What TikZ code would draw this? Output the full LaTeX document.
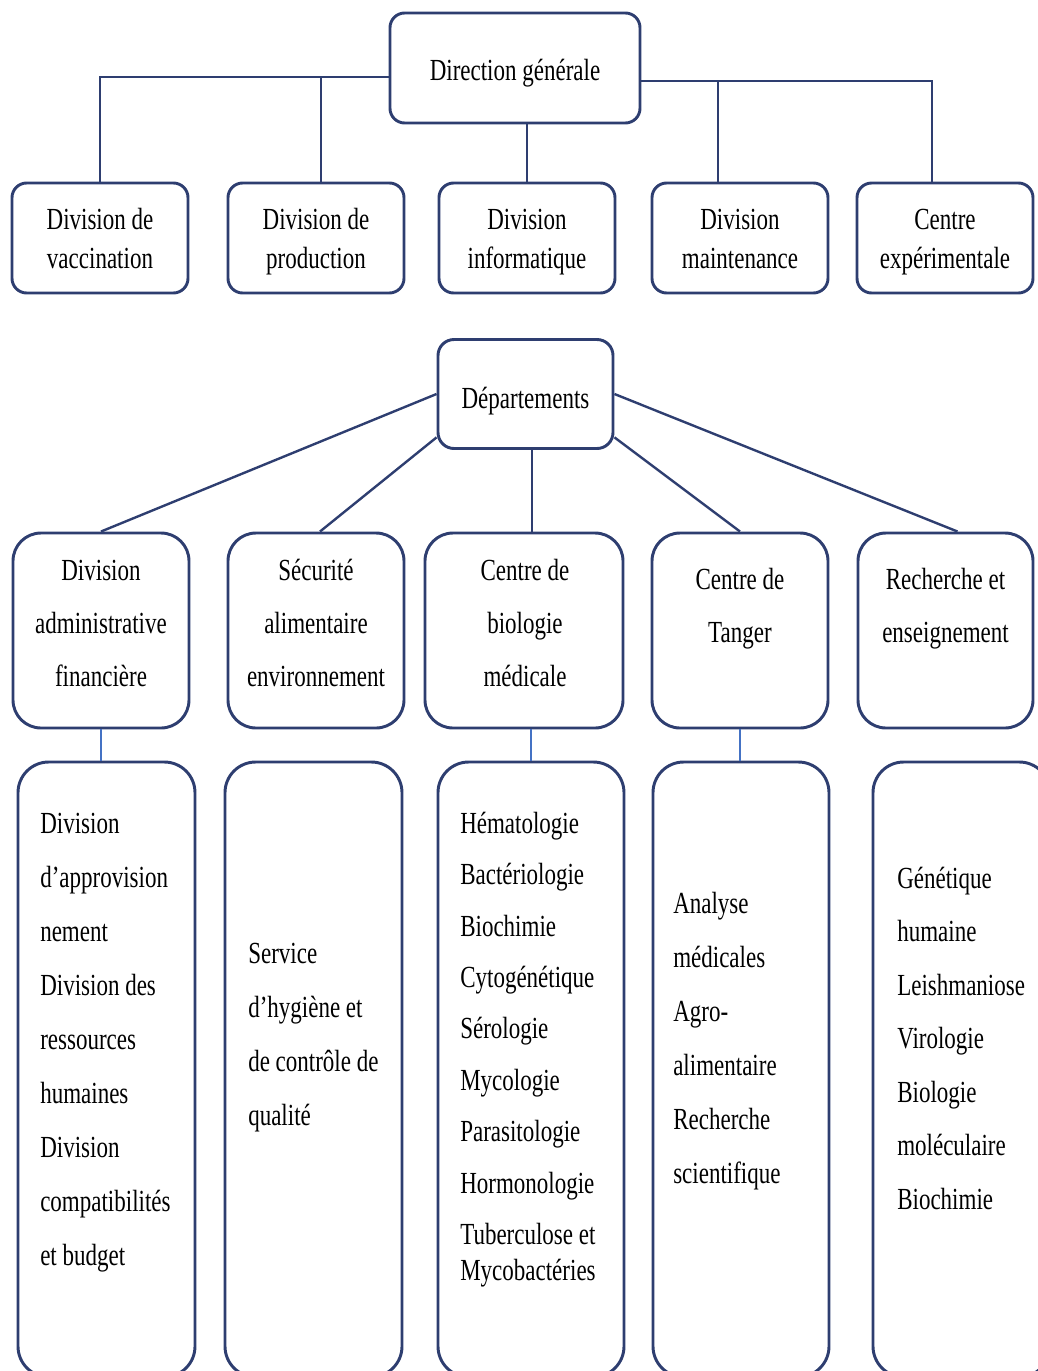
\documentclass[tikz,border=0pt]{standalone}
\usepackage{fontspec}
\setmainfont{Liberation Serif}[FakeStretch=0.75]
\usetikzlibrary{calc}
\definecolor{mynavy}{RGB}{46,62,112}
\definecolor{myblue}{RGB}{68,114,196}
\newcommand{\padtop}[1]{\rule{0pt}{#1}}

\tikzset{
    unitbox/.style={draw=mynavy, fill=white, line width=2.2pt, rounded corners=11pt,
        inner sep=0pt, align=center, font=\fontsize{23}{29.25}\selectfont},
    toprow/.style={unitbox, minimum width=132pt, minimum height=82.5pt},
    deptbox/.style={unitbox, rounded corners=21pt, minimum height=146.25pt},
    listbox/.style={unitbox, rounded corners=23pt, minimum height=461.25pt},
    depttxt/.style={inner sep=0pt, align=center, font=\fontsize{23}{39.75}\selectfont},
    listtxt/.style={inner sep=0pt, align=left, anchor=north west, font=\fontsize{23}{40.5}\selectfont},
    link/.style={draw=mynavy, line width=1.8pt},
    sublink/.style={draw=myblue, line width=1pt},
}

\begin{document}
\begin{tikzpicture}[x=0.75pt, y=-0.75pt]
    \useasboundingbox (0, 0) rectangle (1038, 1371);
    \clip (0, 0) rectangle (1038, 1371);
    % Direction
    \node[unitbox, minimum width=187.5pt, minimum height=82.5pt] (dg) at (515, 68)
        {\padtop{28pt}Direction générale\strut};
    \node[toprow] (vac) at (100, 238) {\padtop{25pt}Division de\\vaccination\strut};
    \node[toprow] (prod) at (316, 238) {\padtop{25pt}Division de\\production\strut};
    \node[toprow] (info) at (527, 238) {\padtop{25pt}Division\\informatique\strut};
    \node[toprow] (maint) at (740, 238) {\padtop{25pt}Division\\maintenance\strut};
    \node[toprow] (exp) at (945, 238) {\padtop{25pt}Centre\\expérimentale\strut};
    \coordinate (prodin) at ($(prod.north) + (5, 0)$);
    \coordinate (maintin) at ($(maint.north) + (-22, 0)$);
    \draw[link] (dg.184) -| (vac.north);
    \draw[link] (prodin |- dg.184) -- (prodin);
    \draw[link] (dg.south -| info.north) -- (info.north);
    \draw[link] (maintin |- dg.354) -- (maintin);
    \draw[link] (dg.354) -| ($(exp.north) + (-13, 0)$);

    % Departements
    \node[unitbox, rounded corners=12pt, minimum width=131.25pt, minimum height=81.75pt] (dep)
        at (525.5, 394) {\padtop{31pt}Départements\strut};
    \node[deptbox, minimum width=132pt] (adm) at (101, 630.5) {};
    \node[deptbox, minimum width=132pt] (sec) at (316, 630.5) {};
    \node[deptbox, minimum width=148.5pt] (bio) at (524, 630.5) {};
    \node[deptbox, minimum width=132pt] (tang) at (740, 630.5) {};
    \node[deptbox, minimum width=131.25pt] (rech) at (945.5, 630.5) {};
    \node[depttxt, anchor=north] (admtxt) at ($(adm.north) + (0, 12)$)
        {\strut Division\\administrative\\financière};
    \node[depttxt, anchor=north] (sectxt) at ($(sec.north) + (0, 12)$)
        {\strut Sécurité\\alimentaire\\environnement};
    \node[depttxt, anchor=north] (biotxt) at ($(bio.north) + (1, 12)$)
        {\strut Centre de\\biologie\\médicale};
    \node[depttxt, anchor=north] (tangtxt) at ($(tang.north) + (0, 21)$)
        {\strut Centre de\\Tanger};
    \node[depttxt, anchor=north] (rechtxt) at ($(rech.north) + (0, 21)$)
        {\strut Recherche et\\enseignement};
    \coordinate (bioin) at ($(bio.north) + (8, 0)$);
    \draw[link] (dep.west) -- (adm.north);
    \draw[link] (dep.206) -- ($(sec.north) + (4, 0)$);
    \draw[link] (bioin |- dep.south) -- (bioin);
    \draw[link] (dep.334) -- (tang.north);
    \draw[link] (dep.east) -- ($(rech.north) + (12, 0)$);

    % Services
    \node[listbox, minimum width=132.75pt] (adml) at (106.5, 1069.5) {};
    \node[listbox, minimum width=132.75pt] (secl) at (313.5, 1069.5) {};
    \node[listbox, minimum width=139.5pt] (biol) at (531, 1069.5) {};
    \node[listbox, minimum width=132pt] (tangl) at (741, 1069.5) {};
    \node[listbox, minimum width=132.75pt] (rechl) at (961.5, 1069.5) {};
    \node[listtxt] (admltxt) at (40, 795)
        {\strut Division\\d’approvision\\nement\\Division des\\ressources\\humaines\\Division\\compatibilités\\et budget};
    \node[listtxt] (secltxt) at (248, 925)
        {\strut Service\\d’hygiène et\\de contrôle de\\qualité};
    \node[listtxt, font=\fontsize{23}{38.55}\selectfont] (bioltxt) at (460, 797)
        {\strut Hématologie\\Bactériologie\\Biochimie\\Cytogénétique\\Sérologie\\Mycologie\\Parasitologie\\Hormonologie\\Tuberculose et\\[-11.5pt]Mycobactéries};
    \node[listtxt] (tangltxt) at (673, 875)
        {\strut Analyse\\médicales\\Agro-\\alimentaire\\Recherche\\scientifique};
    \node[listtxt, font=\fontsize{23}{40.1}\selectfont] (rechltxt) at (897, 850.5)
        {\strut Génétique\\humaine\\Leishmaniose\\Virologie\\Biologie\\moléculaire\\Biochimie};
    \draw[sublink] (adm.south) -- (adm.south |- adml.north);
    \draw[sublink] ($(sec.south) + (2, 0)$) -- ($(sec.south) + (2, 0)$ |- secl.north);
    \draw[sublink] (biol.north) -- (biol.north |- bio.south);
    \draw[sublink] (tang.south) -- (tang.south |- tangl.north);
    \draw[sublink] ($(rechl.north) + (-2, 0)$) -- ($(rechl.north) + (-2, 0)$ |- rech.south);
\end{tikzpicture}
\end{document}
